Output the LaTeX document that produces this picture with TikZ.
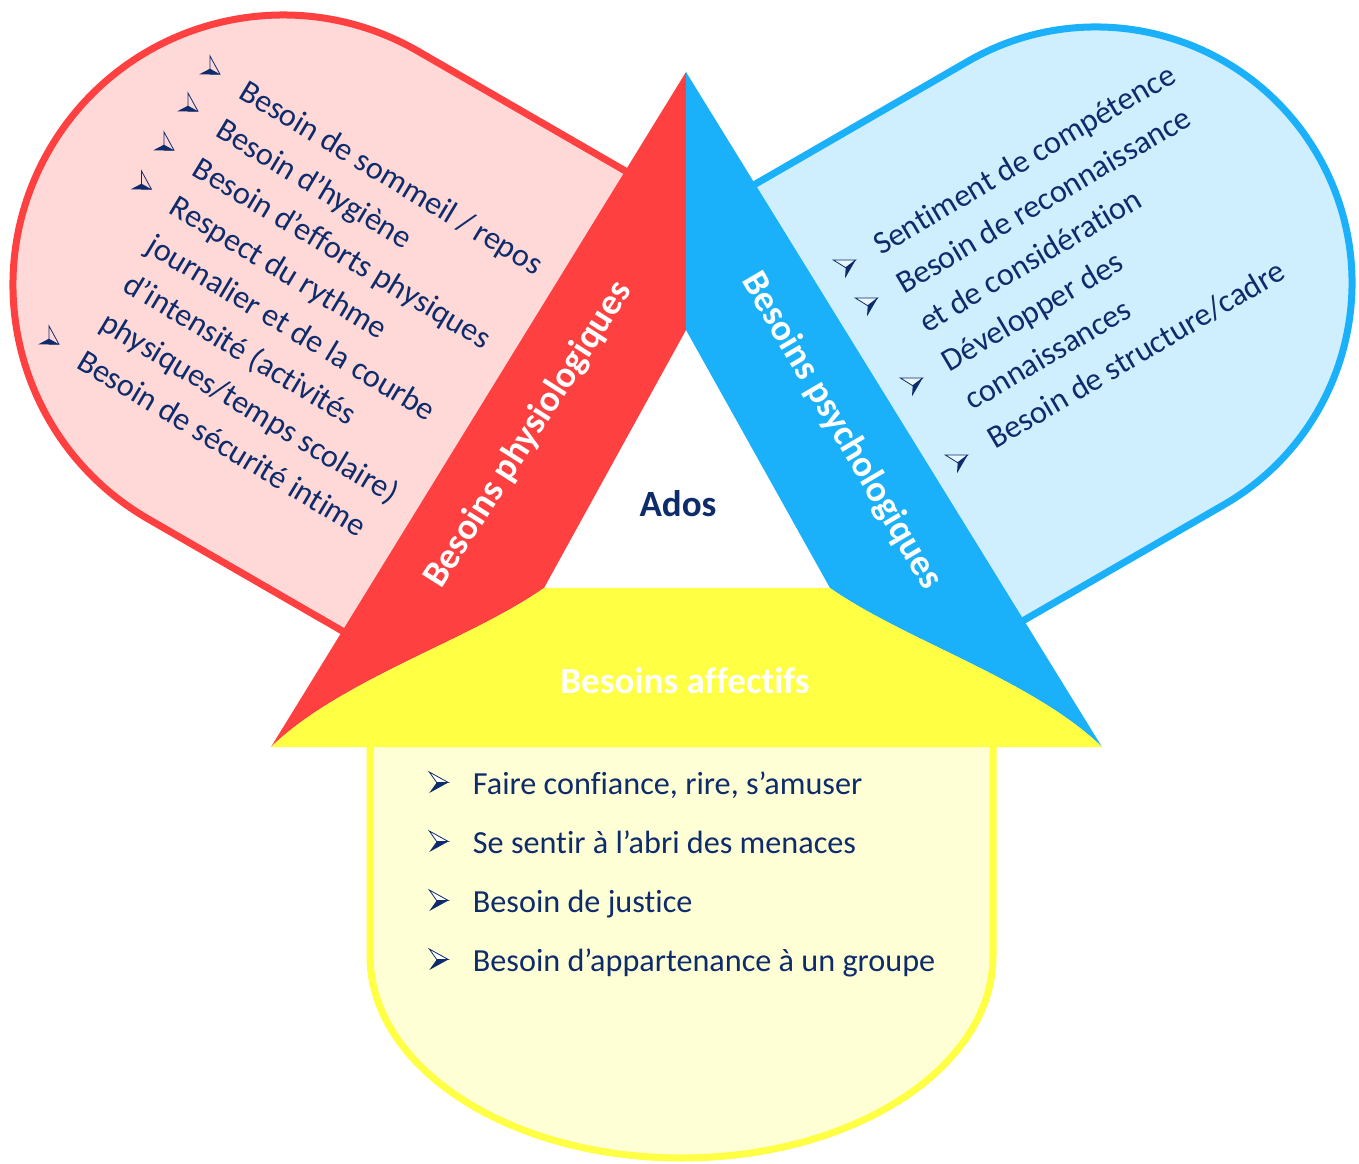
\documentclass[tikz,border=0pt]{standalone}
\usepackage{fontspec}
\setmainfont{Carlito}[Ligatures={NoCommon}]
\definecolor{redb}{HTML}{FF4040}
\definecolor{pinkf}{HTML}{FFD8D8}
\definecolor{blueb}{HTML}{1AB1FA}
\definecolor{bluef}{HTML}{CFEEFE}
\definecolor{yelb}{HTML}{FFFF44}
\definecolor{yelf}{HTML}{FFFFD6}
\definecolor{navy}{HTML}{0E2B6B}
\tikzset{
  itm/.style={inner sep=0pt, text=navy, font=\fontsize{16.1}{19}\selectfont},
  lbl/.style={inner sep=0pt, text=white, font=\bfseries\fontsize{18.5}{22}\selectfont},
  border/.style={line width=3.5pt},
  ybul/.pic={
    \filldraw[fill=white, draw=navy, line width=0.4pt] (0,10.5) -- (19,0) -- (7.4,0) -- cycle;
    \fill[navy] (7.4,0) -- (19,0) -- (0,-10.5) -- cycle;
  },
  pbul/.pic={
    \draw[navy, line width=0.4pt] (0,0) -- (10,-18.3) -- (0,-18.3) -- cycle;
    \fill[navy] (-10.7,-18.3) -- (0,-12.7) -- (10,-18.3) -- cycle;
  },
  bbul/.pic={
    \filldraw[fill=white!55!bluef, draw=navy, line width=0.4pt] (-11.7,0) -- (10.7,0) -- (0.7,-7.7) -- cycle;
    \fill[navy] (10.7,0) -- (0.7,-7.7) -- (0,-18.3) -- cycle;
  }
}
\begin{document}
\begin{tikzpicture}[x=0.5pt,y=0.5pt]
\useasboundingbox (0,0) rectangle (1359,1163);

% side boxes
\filldraw[fill=pinkf, draw=redb, border] (650,977.8) -- (418,1111.8)
  arc[start angle=60, end angle=240, radius=270] -- (380,510.3) -- cycle;
\filldraw[fill=bluef, draw=blueb, border] (720,958.5) -- (968,1101.7)
  arc[start angle=120, end angle=-60, radius=256] -- (976,515.1) -- cycle;
\filldraw[fill=yelf, draw=yelb, border] (370,460) -- (370,207)
  arc[start angle=180, end angle=360, x radius=311.5, y radius=202] -- (993,460) -- cycle;

% triangle bands
\fill[redb] (686,1091) -- (686,833) -- (544,575) .. controls (470,523) and (340,483) .. (271,416) -- cycle;
\fill[blueb] (686,1091) -- (1102,416) .. controls (1033,483) and (904,523) .. (830,575) -- (686,833) -- cycle;
\fill[yelb] (271,416) .. controls (340,483) and (470,523) .. (544,575) -- (830,575)
  .. controls (904,523) and (1033,483) .. (1102,416) -- cycle;

% labels
\node[lbl, anchor=base, rotate=57.5] (lphys) at (537,723) {Besoins physiologiques};
\node[lbl, anchor=base, rotate=-59.5] (lpsy) at (833,727) {Besoins psychologiques};
\node[lbl, anchor=base] (laff) at (685,470) {Besoins affectifs};
\node[lbl, text=navy, anchor=base] (ados) at (678,646) {Ados};

% pink list
\begin{scope}[shift={(237,1066)}, rotate=-31]
  \node[itm, anchor=base west, rotate=-31] (p1) at (0,0) {Besoin de sommeil / repos};
  \node[itm, anchor=base west, rotate=-31] (p2) at (0,-45) {Besoin d’hygiène};
  \node[itm, anchor=base west, rotate=-31] (p3) at (0,-90) {Besoin d’efforts physiques};
  \node[itm, anchor=base west, rotate=-31] (p4) at (0,-135) {Respect du rythme};
  \node[itm, anchor=base west, rotate=-31] (p5) at (0,-180) {journalier et de la courbe};
  \node[itm, anchor=base west, rotate=-31] (p6) at (0,-225) {d’intensité (activités};
  \node[itm, anchor=base west, rotate=-31] (p7) at (0,-270) {physiques/temps scolaire)};
  \node[itm, anchor=base west, rotate=-31] (p8) at (0,-315) {Besoin de sécurité intime};
\end{scope}
\pic at (210,1107) {pbul};
\pic at (188,1070) {pbul};
\pic at (164,1031) {pbul};
\pic at (141.5,992) {pbul};
\pic at (49,837) {pbul};

% blue list
\begin{scope}[shift={(881,907)}, rotate=30.5]
  \node[itm, anchor=base west, rotate=30.5] (q1) at (0,0) {Sentiment de compétence};
  \node[itm, anchor=base west, rotate=30.5] (q2) at (0,-45) {Besoin de reconnaissance};
  \node[itm, anchor=base west, rotate=30.5] (q3) at (0,-90) {et de considération};
  \node[itm, anchor=base west, rotate=30.5] (q4) at (0,-135) {Développer des};
  \node[itm, anchor=base west, rotate=30.5] (q5) at (0,-180) {connaissances};
  \node[itm, anchor=base west, rotate=30.5] (q6) at (0,-225) {Besoin de structure/cadre};
\end{scope}
\pic at (845,903) {bbul};
\pic at (867,865) {bbul};
\pic at (912,785) {bbul};
\pic at (957,708) {bbul};

% yellow list
\node[itm, anchor=base west] (y1) at (472.5,369) {Faire confiance, rire, s’amuser};
\node[itm, anchor=base west] (y2) at (472.5,310) {Se sentir à l’abri des menaces};
\node[itm, anchor=base west] (y3) at (472.5,251) {Besoin de justice};
\node[itm, anchor=base west] (y4) at (472.5,192) {Besoin d’appartenance à un groupe};
\pic at (429.3,380.5) {ybul};
\pic at (429.3,321.5) {ybul};
\pic at (429.3,262.5) {ybul};
\pic at (429.3,203.5) {ybul};
\end{tikzpicture}
\end{document}
